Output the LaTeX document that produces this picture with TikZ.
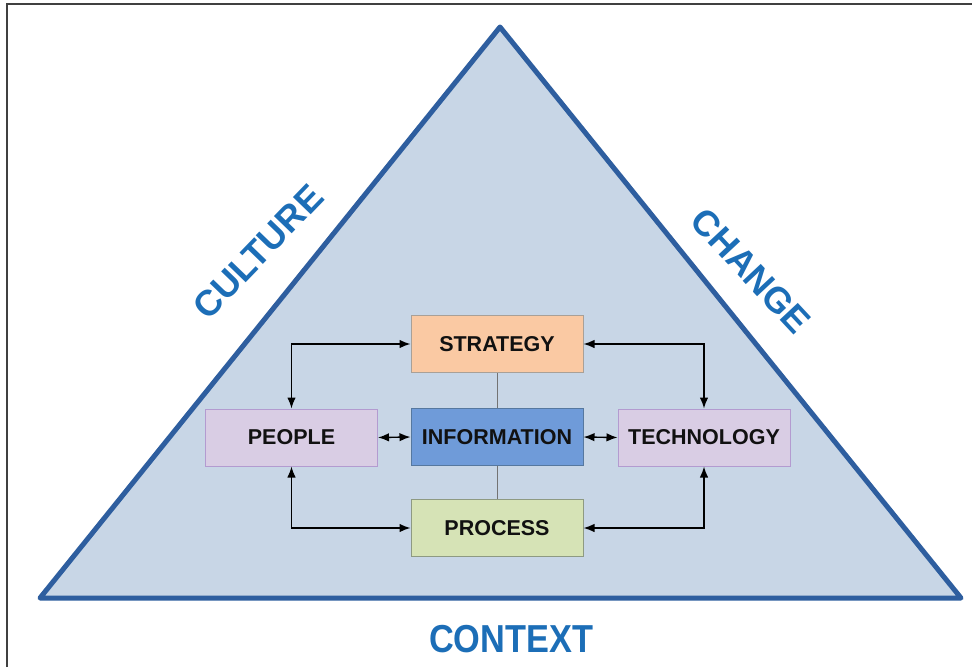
\documentclass[tikz,border=0pt]{standalone}
\usepackage{fontspec}
\setmainfont{Liberation Sans}
\usetikzlibrary{arrows.meta}
\definecolor{trifill}{HTML}{C8D6E6}
\definecolor{tristroke}{HTML}{2E5E9F}
\definecolor{labelblue}{HTML}{1C6EB7}
\definecolor{stratfill}{HTML}{FAC9A3}
\definecolor{stratline}{HTML}{A9A097}
\definecolor{infofill}{HTML}{6F9BD9}
\definecolor{infoline}{HTML}{56789F}
\definecolor{procfill}{HTML}{D6E3B6}
\definecolor{procline}{HTML}{8E9A82}
\definecolor{sidefill}{HTML}{D9CDE4}
\definecolor{sideline}{HTML}{B39BD0}
\definecolor{boxtext}{HTML}{111111}
\begin{document}
\begin{tikzpicture}[x=1pt,y=-1pt,
  box/.style={draw, line width=1pt, minimum width=172pt, minimum height=57pt,
    inner sep=0pt, font=\fontsize{21.5}{24}\selectfont\bfseries, text=boxtext},
  edgelabel/.style={text=labelblue, font=\fontsize{36}{40}\selectfont\bfseries},
  tip/.tip={Latex[length=11pt,width=8.5pt]},
  link/.style={line width=1.4pt, black, tip-tip},
  spine/.style={line width=1pt, draw=black!55}]
\useasboundingbox (0,0) rectangle (972,667);
\fill[white] (0,0) rectangle (972,667);
% frame edges
\draw[line width=1.5pt, black!75] (7,667) -- (7,4) -- (972,4);
% triangle
\coordinate (apex) at (500,27);
\coordinate (bl) at (40,598);
\coordinate (br) at (961,598);
\draw[line width=5pt, line join=round, draw=tristroke, fill=trifill] (apex) -- (br) -- (bl) -- cycle;
% edge labels
\node[edgelabel, rotate=46] (culture) at (258,252) {CULTURE};
\node[edgelabel, rotate=-47] (change) at (751,271) {CHANGE};
\node[edgelabel] (context) at (511,639) {\fontsize{39}{42}\selectfont\scalebox{0.88}[1]{CONTEXT}};
% boxes
\node[box, fill=stratfill, draw=stratline] (strategy) at (497,344) {STRATEGY};
\node[box, fill=infofill, draw=infoline] (info) at (497,437) {INFORMATION};
\node[box, fill=procfill, draw=procline] (process) at (497,528) {PROCESS};
\node[box, fill=sidefill, draw=sideline] (people) at (291.5,437.5) {PEOPLE};
\node[box, fill=sidefill, draw=sideline] (tech) at (704,437.5) {TECHNOLOGY};
% centre spine
\draw[spine] (strategy.south) -- (info.north);
\draw[spine] (info.south) -- (process.north);
% links
\draw[link] (people.north) |- (strategy.west);
\draw[link] (people.south) |- (process.west);
\draw[link] (tech.north) |- (strategy.east);
\draw[link] (tech.south) |- (process.east);
\draw[link] (people.east) -- (info.west);
\draw[link] (info.east) -- (tech.west);
\end{tikzpicture}
\end{document}
